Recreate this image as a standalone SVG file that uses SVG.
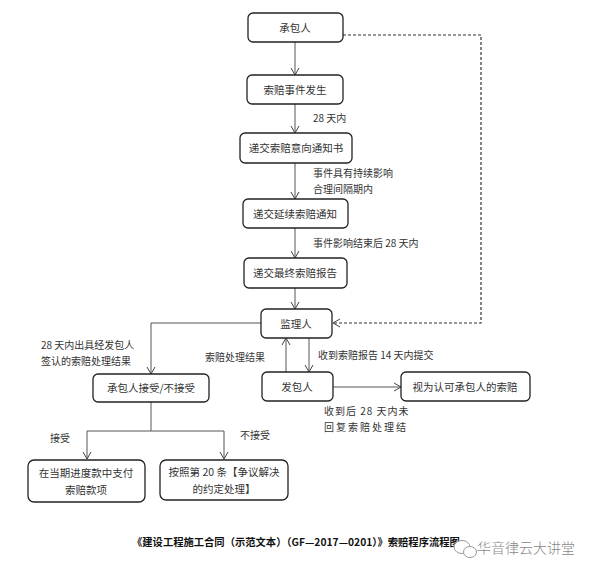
<svg xmlns="http://www.w3.org/2000/svg" width="592" height="577" viewBox="0 0 592 577">
<defs>
<marker id="v" markerWidth="10" markerHeight="10" refX="8" refY="5" orient="auto" markerUnits="userSpaceOnUse">
<path d="M1,1 L8,5 L1,9" fill="none" stroke="#444" stroke-width="1"/>
</marker>
</defs>
<style>
.box{fill:#fff;stroke:#222;stroke-width:1.3}
.t{font-family:"Noto Sans CJK SC","Liberation Sans",sans-serif;font-size:10.5px;fill:#333;text-anchor:middle}
.l{font-family:"Noto Sans CJK SC","Liberation Sans",sans-serif;font-size:10px;fill:#333}
.c{fill:none;stroke:#555;stroke-width:1}
.d{fill:none;stroke:#333;stroke-width:1.2;stroke-dasharray:3,2}
</style>
<rect width="592" height="577" fill="#fff"/>
<g id="connectors">
<path class="c" d="M295,42 V75" marker-end="url(#v)"/>
<path class="c" d="M295,104 V133" marker-end="url(#v)"/>
<path class="c" d="M295,163 V199" marker-end="url(#v)"/>
<path class="c" d="M295,228 V258" marker-end="url(#v)"/>
<path class="c" d="M295,288 V309" marker-end="url(#v)"/>
<path class="d" d="M343,35 H481 V323 H333" marker-end="url(#v)"/>
<path class="c" d="M261,323 H151 V374" marker-end="url(#v)"/>
<path class="c" d="M286,372 V338" marker-end="url(#v)"/>
<path class="c" d="M309,338 V372" marker-end="url(#v)"/>
<path class="c" d="M333,387 H401" marker-end="url(#v)"/>
<path class="c" d="M151,402 V431"/>
<path class="c" d="M87,431 H224"/>
<path class="c" d="M87,431 V459" marker-end="url(#v)"/>
<path class="c" d="M224,431 V459" marker-end="url(#v)"/>
</g>
<g id="labels">
<text class="l" x="313" y="122">28 天内</text>
<text class="l" x="313" y="177">事件具有持续影响</text>
<text class="l" x="313" y="193">合理间隔期内</text>
<text class="l" x="313" y="247">事件影响结束后 28 天内</text>
<text class="l" x="41" y="349">28 天内出具经发包人</text>
<text class="l" x="41" y="365">签认的索赔处理结果</text>
<text class="l" x="205" y="361">索赔处理结果</text>
<text class="l" x="318" y="359">收到索赔报告 14 天内提交</text>
<text class="l" x="324" y="415" letter-spacing="1">收到后 28 天内未</text>
<text class="l" x="324" y="431" letter-spacing="2">回复索赔处理结</text>
<text class="l" x="50" y="442">接受</text>
<text class="l" x="240" y="439">不接受</text>
</g>
<g id="n1"><rect class="box" x="248" y="13" width="95" height="29" rx="5"/><text class="t" x="295" y="31.5">承包人</text></g>
<g id="n2"><rect class="box" x="247" y="75" width="96" height="29" rx="5"/><text class="t" x="295" y="93.5">索赔事件发生</text></g>
<g id="n3"><rect class="box" x="240" y="133" width="112" height="30" rx="5"/><text class="t" x="296" y="152">递交索赔意向通知书</text></g>
<g id="n4"><rect class="box" x="243" y="199" width="105" height="29" rx="5"/><text class="t" x="295" y="217.5">递交延续索赔通知</text></g>
<g id="n5"><rect class="box" x="244" y="258" width="103" height="30" rx="5"/><text class="t" x="295" y="277">递交最终索赔报告</text></g>
<g id="n6"><rect class="box" x="261" y="309" width="71" height="29" rx="5"/><text class="t" x="296" y="327.5">监理人</text></g>
<g id="n7"><rect class="box" x="93" y="374" width="116" height="28" rx="5"/><text class="t" x="151" y="392">承包人接受/不接受</text></g>
<g id="n8"><rect class="box" x="262" y="372" width="71" height="29" rx="5"/><text class="t" x="297" y="390.5">发包人</text></g>
<g id="n9"><rect class="box" x="401" y="372" width="129" height="29" rx="5"/><text class="t" x="465" y="390.5">视为认可承包人的索赔</text></g>
<g id="n10"><rect class="box" x="28" y="460" width="117" height="42" rx="6"/><text class="t" x="86" y="477">在当期进度款中支付</text><text class="t" x="86" y="494">索赔款项</text></g>
<g id="n11"><rect class="box" x="160" y="460" width="128" height="40" rx="6"/><text class="t" x="224" y="476">按照第 20 条【争议解决</text><text class="t" x="224" y="493">的约定处理】</text></g>
<g id="title">
<text x="132" y="546" font-family="'Noto Sans CJK SC','Liberation Sans',sans-serif" font-size="10.3" font-weight="bold" fill="#111">《建设工程施工合同（示范文本）（GF—2017—0201）》索赔程序流程图</text>
<g fill="#fff" stroke="#999" stroke-width="1"><ellipse cx="462" cy="547" rx="8" ry="6.5"/><ellipse cx="470" cy="552" rx="6.5" ry="5.5"/></g>
<text x="477" y="553" font-family="'Noto Sans CJK SC',sans-serif" font-size="14" font-weight="300" fill="#888">华音律云大讲堂</text>
</g>
</svg>
